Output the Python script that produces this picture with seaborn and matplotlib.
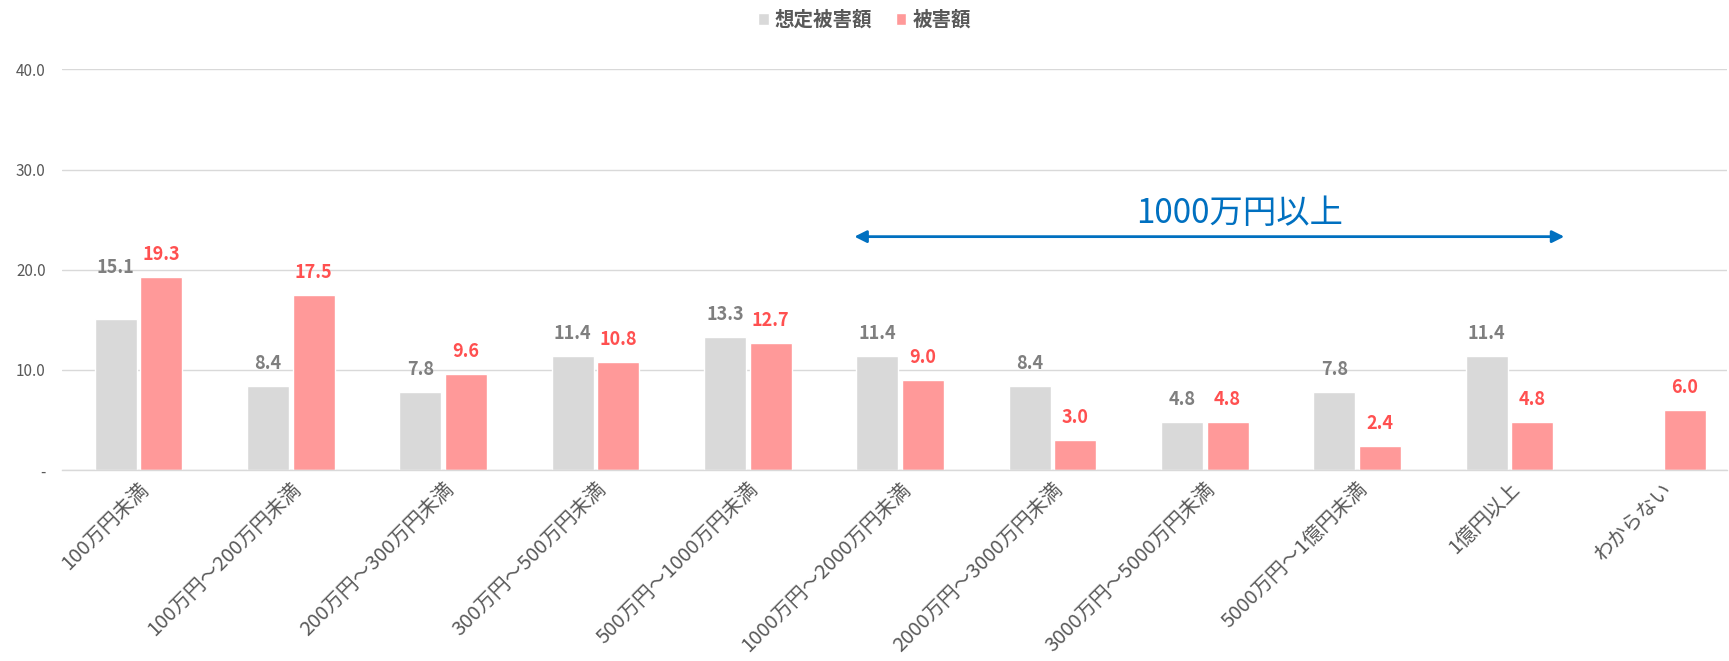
import numpy as np
import pandas as pd
import matplotlib
matplotlib.use("Agg")
import matplotlib.pyplot as plt
import seaborn as sns

categories = ["100万円未満", "100万円～200万円未満", "200万円～300万円未満", "300万円～500万円未満",
              "500万円～1000万円未満", "1000万円～2000万円未満", "2000万円～3000万円未満",
              "3000万円～5000万円未満", "5000万円～1億円未満", "1億円以上", "わからない"]
assumed = [15.1, 8.4, 7.8, 11.4, 13.3, 11.4, 8.4, 4.8, 7.8, 11.4, np.nan]
actual = [19.3, 17.5, 9.6, 10.8, 12.7, 9.0, 3.0, 4.8, 2.4, 4.8, 6.0]
series = ["想定被害額", "被害額"]
yticks = [0, 10, 20, 30, 40]
ytick_labels = ["-", "10.0", "20.0", "30.0", "40.0"]
annot_text = "1000万円以上"

sns.set_theme(style="white")
plt.rcParams['font.family'] = ['Noto Sans CJK JP', 'DejaVu Sans']

df = pd.DataFrame({
    "cat": categories * 2,
    "series": [series[0]] * len(categories) + [series[1]] * len(categories),
    "value": assumed + actual,
})

fig = plt.figure(figsize=(17.29, 6.61), dpi=100)
ax = fig.add_axes([0.036, 0.289, 0.963, 0.606])

palette = {series[0]: "#d9d9d9", series[1]: "#ff9999"}
sns.barplot(data=df, x="cat", y="value", hue="series", palette=palette, ax=ax,
            width=0.6, gap=0.08, order=categories, hue_order=series, legend=True,
            errorbar=None, saturation=1)

label_colors = ["#7f7f7f", "#ff5050"]
for ci, (cont, col) in enumerate(zip(ax.containers, label_colors)):
    anns = ax.bar_label(cont, fmt="%.1f", padding=9, color=col, fontsize=13, fontweight="bold")
    if ci == 0 and len(anns) > 0:
        # first grey label sits higher in the original
        anns[0].xyann = (anns[0].xyann[0], 30)

ax.set_ylim(0, 40)
ax.set_xlim(-0.5, 10.43)
ax.set_yticks(yticks)
ax.set_yticklabels(ytick_labels)
ax.yaxis.grid(True, color="#d9d9d9", linewidth=1)
ax.set_axisbelow(True)
for s in ["top", "right", "left"]:
    ax.spines[s].set_visible(False)
ax.spines["bottom"].set_color("#d9d9d9")
ax.spines["bottom"].set_linewidth(1)
ax.tick_params(axis="y", length=0, labelsize=11, labelcolor="#595959", pad=12)
ax.tick_params(axis="x", length=0, labelsize=14.5, labelcolor="#595959", pad=6)
plt.setp(ax.get_xticklabels(), rotation=45, ha="right", rotation_mode="anchor")
ax.set_xlabel("")
ax.set_ylabel("")

# legend
handles, labels = ax.get_legend_handles_labels()
ax.legend_.remove()
leg = fig.legend(handles, labels, loc="center", bbox_to_anchor=(0.5, 0.970), ncol=2,
                 frameon=False, handlelength=0.55, handleheight=0.55, handletextpad=0.3,
                 columnspacing=1.2, fontsize=14)
for t in leg.get_texts():
    t.set_color("#595959")
    t.set_fontweight("bold")

# annotation arrow
ax.annotate("", xy=(4.70, 23.3), xytext=(9.36, 23.3),
            arrowprops=dict(arrowstyle="<|-|>", color="#0070c0", lw=2, mutation_scale=18,
                            shrinkA=0, shrinkB=0))
ax.text(7.23, 25.6, annot_text, color="#0070c0", fontsize=24, ha="center", va="center")

fig.savefig("out.png", dpi=100)
